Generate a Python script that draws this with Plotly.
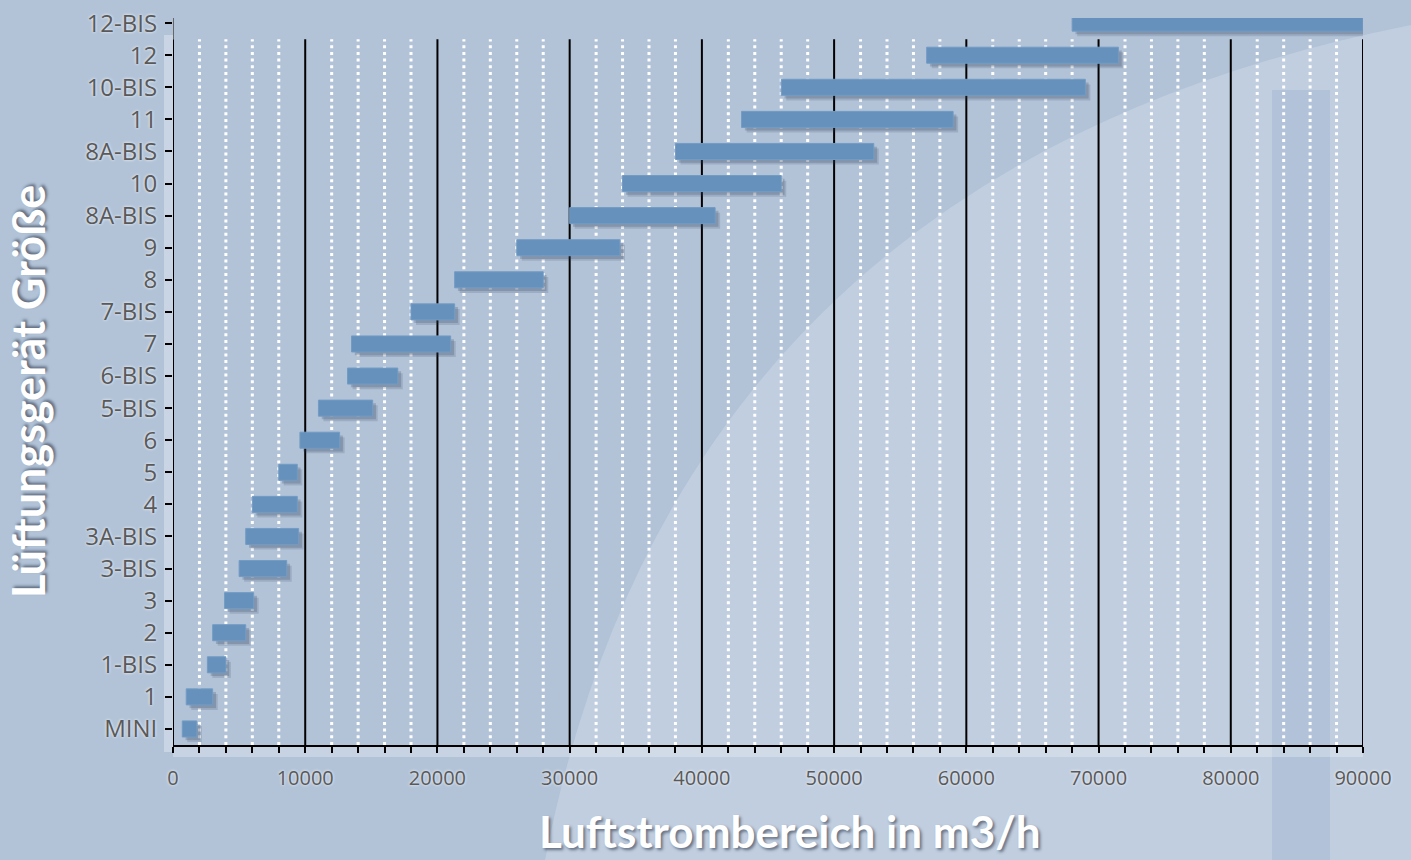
import plotly.graph_objects as go

# ---- data ----
sizes = ["MINI", "1", "1-BIS", "2", "3", "3-BIS", "3A-BIS", "4", "5", "6", "5-BIS",
         "6-BIS", "7", "7-BIS", "8", "9", "8A-BIS", "10", "8A-BIS", "11", "10-BIS",
         "12", "12-BIS"]
flow_min = [700, 1000, 2600, 3000, 3900, 5000, 5500, 6000, 8000, 9600, 11000,
            13200, 13500, 18000, 21300, 26000, 30000, 34000, 38000, 43000, 46000,
            57000, 68000]
flow_max = [1800, 3000, 4000, 5500, 6100, 8600, 9500, 9400, 9400, 12600, 15100,
            17000, 21000, 21300, 28000, 33800, 41000, 46000, 53000, 59000, 69000,
            71500, 90000]
x_ticks = [0, 10000, 20000, 30000, 40000, 50000, 60000, 70000, 80000, 90000]

pos = list(range(len(sizes)))
lengths = [b - a for a, b in zip(flow_min, flow_max)]

W, H = 1411, 860
L, R, T, B = 173, 48, 18, 115
Y0, Y1 = -0.5, 22.16
pw, ph = W - L - R, H - T - B


def px(x):
    return (x - L) / pw


def py(y):
    return (H - B - y) / ph


fig = go.Figure()

# soft shadow (two layers)
for dx, dy, a in [(380, 0.16, 0.16), (250, 0.10, 0.22)]:
    fig.add_trace(go.Bar(
        y=[p - dy for p in pos], x=lengths, base=[v + dx for v in flow_min],
        orientation="h", width=0.5,
        marker=dict(color=f"rgba(45,60,85,{a})", line=dict(width=0)),
        hoverinfo="skip", showlegend=False))
# bars
fig.add_trace(go.Bar(
    y=pos, x=lengths, base=flow_min, orientation="h", width=0.5,
    marker=dict(color="#6591bc", line=dict(color="#739cc4", width=1)),
    customdata=list(zip(sizes, flow_min, flow_max)),
    hovertemplate="%{customdata[0]}: %{customdata[1]} - %{customdata[2]} m3/h<extra></extra>",
    showlegend=False))

shapes = []
# background decoration
shapes.append(dict(type="path", xref="paper", yref="paper", layer="below",
                   path=f"M {px(545)},{py(860)} Q {px(680)},{py(170)} {px(1411)},{py(25)} "
                        f"L {px(1411)},{py(860)} Z",
                   fillcolor="rgba(235,240,248,0.25)", line=dict(width=0)))
shapes.append(dict(type="rect", xref="paper", yref="paper", layer="below",
                   x0=px(1272), x1=px(1330), y0=py(860), y1=py(90),
                   fillcolor="rgba(140,165,200,0.28)", line=dict(width=0)))
shapes.append(dict(type="rect", xref="paper", yref="paper", layer="below",
                   x0=px(164), x1=px(173), y0=py(752), y1=py(35),
                   fillcolor="rgba(255,255,255,0.30)", line=dict(width=0)))
shapes.append(dict(type="rect", xref="paper", yref="paper", layer="below",
                   x0=px(173), x1=px(1363), y0=py(757), y1=py(745),
                   fillcolor="rgba(255,255,255,0.28)", line=dict(width=0)))

# grid lines
for v in range(2000, 90001, 2000):
    if v % 10000 == 0:
        shapes.append(dict(type="line", xref="x", yref="y", layer="below",
                           x0=v, x1=v, y0=-0.5, y1=21.5,
                           line=dict(color="black", width=2)))
    else:
        shapes.append(dict(type="line", xref="x", yref="y", layer="below",
                           x0=v, x1=v, y0=-0.5, y1=21.5,
                           line=dict(color="white", width=3, dash="3px,3.7px")))
# y axis line
shapes.append(dict(type="line", xref="x", yref="y", x0=0, x1=0, y0=-0.5, y1=21.5,
                   line=dict(color="black", width=2)))
shapes.append(dict(type="line", xref="x", yref="y", x0=0, x1=0, y0=21.5, y1=Y1,
                   line=dict(color="#666666", width=2)))

fig.update_layout(
    width=W, height=H,
    margin=dict(l=L, r=R, t=T, b=B, autoexpand=False),
    paper_bgcolor="#b2c3d8",
    plot_bgcolor="rgba(0,0,0,0)",
    barmode="overlay",
    shapes=shapes,
    font=dict(family="Open Sans, sans-serif", color="#595959"),
    xaxis=dict(range=[0, 90000], tickvals=x_ticks, ticktext=[str(v) for v in x_ticks],
               showgrid=False, zeroline=False, showline=True, linecolor="black", linewidth=2,
               ticks="outside", ticklen=6, tickwidth=2, tickcolor="black",
               minor=dict(dtick=2000, ticks="outside", ticklen=6, tickwidth=1.5, tickcolor="black",
                          showgrid=False),
               tickfont=dict(size=20, color="#595959", shadow="0px 0px 3px white"),
               ticklabelstandoff=8),
    yaxis=dict(range=[Y0, Y1], tickvals=pos, ticktext=sizes, showgrid=False, zeroline=False,
               showline=False, ticks="outside", ticklen=7, tickwidth=2, tickcolor="black",
               tickfont=dict(size=24, color="#595959", shadow="0px 0px 3px white"),
               ticklabelstandoff=3),
    annotations=[
        dict(text="Luftstrombereich in m3/h", xref="paper", yref="paper",
             x=px(790), y=py(831), xanchor="center", yanchor="middle", showarrow=False,
             font=dict(size=44, color="white", family="Lato, sans-serif", weight="bold",
                       shadow="2px 2px 3px rgba(40,50,70,0.6)")),
        dict(text="Lüftungsgerät Größe", xref="paper", yref="paper",
             x=px(28), y=py(392), xanchor="center", yanchor="middle", showarrow=False,
             textangle=-90,
             font=dict(size=45, color="white", family="Lato, sans-serif", weight="bold",
                       shadow="2px 2px 3px rgba(40,50,70,0.6)")),
    ],
)

fig.write_html("out.html", config={"displayModeBar": False},
               post_script="document.body.style.margin='0px';"
                           "document.body.style.background='#b2c3d8';")
